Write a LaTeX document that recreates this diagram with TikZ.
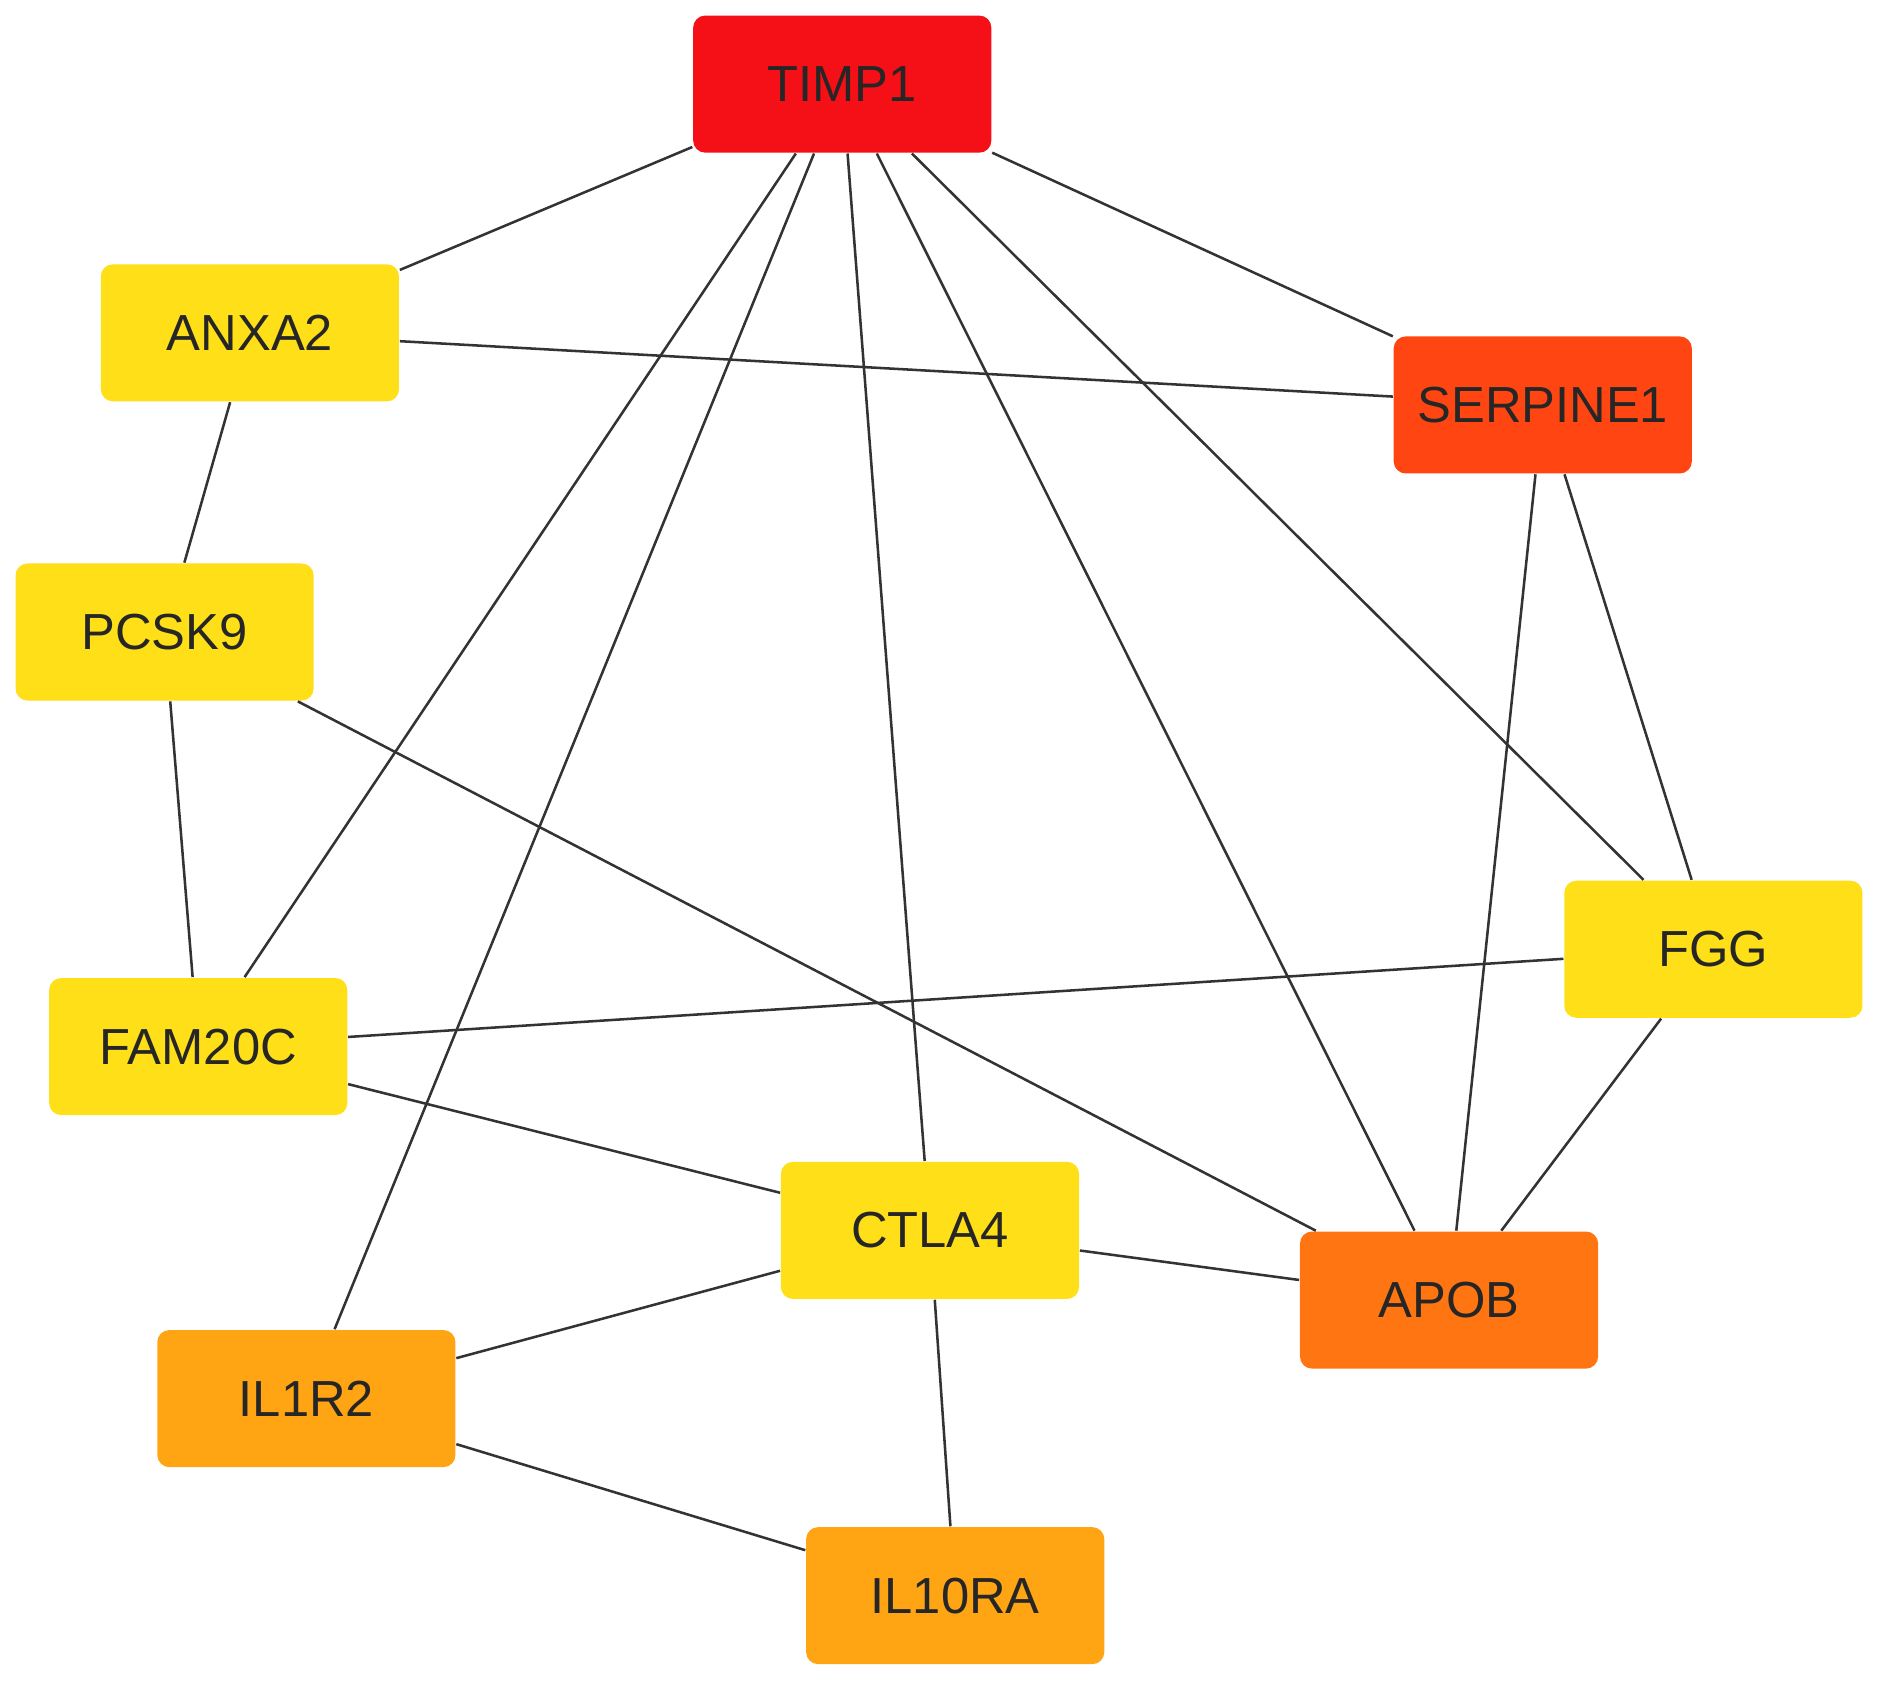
\documentclass[tikz,border=0pt]{standalone}
\usepackage{fontspec}
\setmainfont{Liberation Sans}
\usetikzlibrary{positioning}
\definecolor{topred}{HTML}{F50F16}
\definecolor{redorange}{HTML}{FF4612}
\definecolor{darkorange}{HTML}{FF7512}
\definecolor{lightorange}{HTML}{FFA513}
\definecolor{hubyellow}{HTML}{FFDF17}
\tikzset{
    x=0.01cm,y=-0.01cm,semithick,
    gene/.style ={rectangle, rounded corners=0.1cm, minimum width=2.48cm, minimum height=1.14cm,
        font=\fontsize{12}{14}\selectfont, text=black!85},
    link/.style = {draw=black!80, line width=0.6pt}
}
\begin{document}
\begin{tikzpicture}
    \useasboundingbox (0,0) rectangle (1568,1405);

    \node[gene,fill=topred] (timp) at (701,70) {TIMP1};
    \node[gene,fill=hubyellow] (anxa) at (208,277) {ANXA2};
    \node[gene,fill=redorange] (serp) at (1284,337) {SERPINE1};
    \node[gene,fill=hubyellow] (pcsk) at (137,526) {PCSK9};
    \node[gene,fill=hubyellow] (fgg) at (1426,790) {FGG};
    \node[gene,fill=hubyellow] (fam) at (165,871) {FAM20C};
    \node[gene,fill=hubyellow] (ctla) at (774,1024) {CTLA4};
    \node[gene,fill=darkorange] (apob) at (1206,1082) {APOB};
    \node[gene,fill=lightorange] (ilr2) at (255,1164) {IL1R2};
    \node[gene,fill=lightorange] (ilra) at (795,1328) {IL10RA};

    % interactions
    \begin{scope}[on background layer/.style={}]
    \foreach \a/\b in {timp/anxa,timp/serp,timp/fam,timp/ilr2,timp/ctla,timp/apob,timp/fgg,
        anxa/serp,anxa/pcsk,pcsk/fam,pcsk/apob,serp/apob,serp/fgg,fgg/fam,fgg/apob,
        fam/ctla,ctla/apob,ctla/ilr2,ctla/ilra,ilr2/ilra}
        \path[link] (\a) -- (\b);
    \end{scope}

\end{tikzpicture}
\end{document}
